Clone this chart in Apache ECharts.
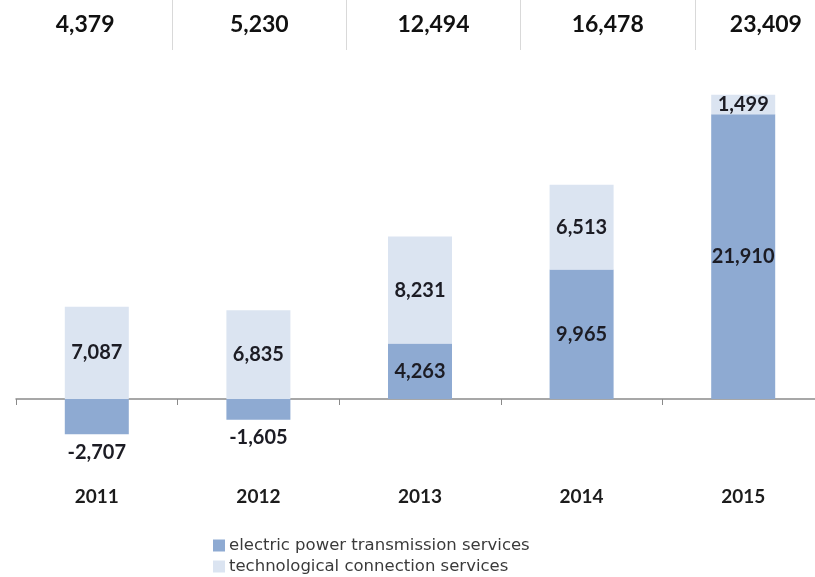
<!DOCTYPE html>
<html>
<head>
<meta charset="utf-8">
<script src="https://cdn.jsdelivr.net/npm/echarts@6/dist/echarts.min.js"></script>
<style>
  html, body { margin: 0; padding: 0; background: #fff; }
  #chart { width: 815px; height: 577px; }
</style>
</head>
<body>
<div id="chart"></div>
<script>
// data
const years = ['2011', '2012', '2013', '2014', '2015'];
const transmission = [-2707, -1605, 4263, 9965, 21910];
const connection = [7087, 6835, 8231, 6513, 1499];
// totals as printed in the header row
const totals = [4379, 5230, 12494, 16478, 23409];
const seriesNames = ['electric power transmission services', 'technological connection services'];

const fmt = v => v.toLocaleString('en-US');

const chart = echarts.init(document.getElementById('chart'));

const labelFont = {
  fontFamily: 'Lato',
  fontWeight: 'bold',
  fontSize: 20,
  color: '#1c1c24'
};

const legendBase = {
  orient: 'vertical',
  left: 208,
  itemWidth: 12,
  itemHeight: 12,
  icon: 'rect',
  textStyle: { fontFamily: 'DejaVu Sans', fontSize: 16.5, color: '#3a3a3a', padding: [0, 0, 0, -1] }
};

const option = {
  animation: false,
  backgroundColor: '#fff',
  color: ['#8eaad2', '#dbe4f1'],
  legend: [
    Object.assign({ top: 532, data: [seriesNames[0]] }, legendBase),
    Object.assign({ top: 553, data: [seriesNames[1]] }, legendBase)
  ],
  grid: [
    { left: 16, width: 808, top: 74, height: 390, outerBoundsMode: 'none', containLabel: false },
    { left: -2, width: 871, top: 0, height: 50, outerBoundsMode: 'none', containLabel: false }
  ],
  xAxis: [
    {
      type: 'category',
      data: years,
      gridIndex: 0,
      axisLine: { onZero: true, lineStyle: { color: '#8a8a8a', width: 1.5 } },
      axisTick: { show: true, length: 6, lineStyle: { color: '#8a8a8a' } },
      axisLabel: { margin: 23, fontFamily: 'Lato', fontWeight: 'bold', fontSize: 19, color: '#1c1c1c' },
      splitLine: { show: false }
    },
    {
      type: 'category',
      data: totals.map(fmt),
      gridIndex: 1,
      position: 'top',
      axisLine: { show: false },
      axisTick: { show: false },
      axisLabel: {
        inside: true,
        margin: 13,
        fontFamily: 'Lato',
        fontWeight: 'bold',
        fontSize: 23,
        color: '#111',
        formatter: (v, i) => i === years.length - 1 ? '{last|' + v + '}' : v,
        rich: {
          last: { fontFamily: 'Lato', fontWeight: 'bold', fontSize: 23, color: '#111', padding: [0, 32, 0, 0] }
        }
      },
      splitLine: { show: true, lineStyle: { color: '#d9d9d9', width: 1 } }
    }
  ],
  yAxis: [
    { type: 'value', gridIndex: 0, min: -5000, max: 25000, show: false },
    { type: 'value', gridIndex: 1, show: false }
  ],
  series: [
    {
      name: seriesNames[0],
      type: 'bar',
      stack: 'total',
      barWidth: 64,
      data: transmission.map(v => ({
        value: v,
        label: { position: v < 0 ? 'bottom' : 'inside', distance: 8 }
      })),
      label: Object.assign({ show: true, formatter: p => fmt(p.value) }, labelFont)
    },
    {
      name: seriesNames[1],
      type: 'bar',
      stack: 'total',
      barWidth: 64,
      data: connection,
      label: Object.assign({ show: true, position: 'inside', formatter: p => fmt(p.value) }, labelFont)
    }
  ]
};

chart.setOption(option);
</script>
</body>
</html>
